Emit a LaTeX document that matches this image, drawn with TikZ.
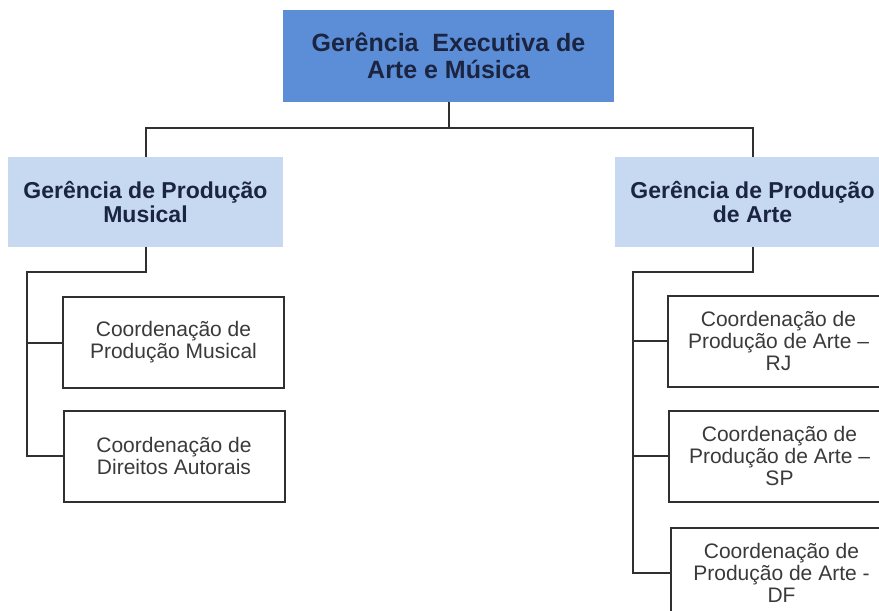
\documentclass[tikz,border=0pt]{standalone}
\usepackage{fontspec}
\setmainfont{Liberation Sans}
\definecolor{topfill}{HTML}{5B8ED7}
\definecolor{mgrfill}{HTML}{C6D9F1}
\definecolor{navy}{HTML}{1B2440}
\definecolor{linec}{HTML}{303030}
\definecolor{boxtext}{HTML}{3A3A3A}
\begin{document}
\begin{tikzpicture}[x=1pt,y=-1pt,
  topbox/.style={rectangle, fill=topfill, minimum width=331pt, minimum height=92pt,
    align=center, text=navy, font=\bfseries\fontsize{25}{27}\selectfont, inner sep=0pt},
  mgrbox/.style={rectangle, fill=mgrfill, minimum width=275pt, minimum height=90pt,
    align=center, text=navy, font=\bfseries\fontsize{23}{23.5}\selectfont, inner sep=0pt},
  childbox/.style={rectangle, draw=linec, line width=2pt, fill=white, minimum width=221pt, minimum height=91pt,
    align=center, text=boxtext, font=\fontsize{21}{22}\selectfont, inner sep=0pt},
  conn/.style={draw=linec, line width=2pt}
]
\useasboundingbox (0,0) rectangle (879,611);
\clip (0,0) rectangle (879,611);
\node[topbox] (top) at (448.5,56) {Gerência\ \ Executiva de\\Arte e Música};
\node[mgrbox] (lm) at (145.5,202) {Gerência de Produção\\Musical};
\node[mgrbox] (rm) at (752.5,202) {Gerência de Produção\\de Arte};
\node[childbox] (c1) at (173.5,342.5) {Coordenação de\\Produção Musical};
\node[childbox] (c2) at (174,456) {Coordenação de\\Direitos Autorais};
\node[childbox] (rj) at (778.5,341) {Coordenação de\\Produção de Arte –\\RJ};
\node[childbox] (sp) at (779.5,456) {Coordenação de\\Produção de Arte –\\SP};
\node[childbox] (df) at (781.5,573) {Coordenação de\\Produção de Arte -\\DF};
\coordinate (tb) at (448.5,128);
\coordinate (lb) at (27,272);
\coordinate (rb) at (633,272);
\path[conn] (top.south) -- (tb) -| (lm.north);
\path[conn] (tb) -| (rm.north);
\path[conn] (lm.south) |- (lb) |- (c1.west);
\path[conn] (lb) |- (c2.west);
\path[conn] (rm.south) |- (rb) |- (rj.west);
\path[conn] (rb) |- (sp.west);
\path[conn] (rb) |- (df.west);
\end{tikzpicture}
\end{document}
